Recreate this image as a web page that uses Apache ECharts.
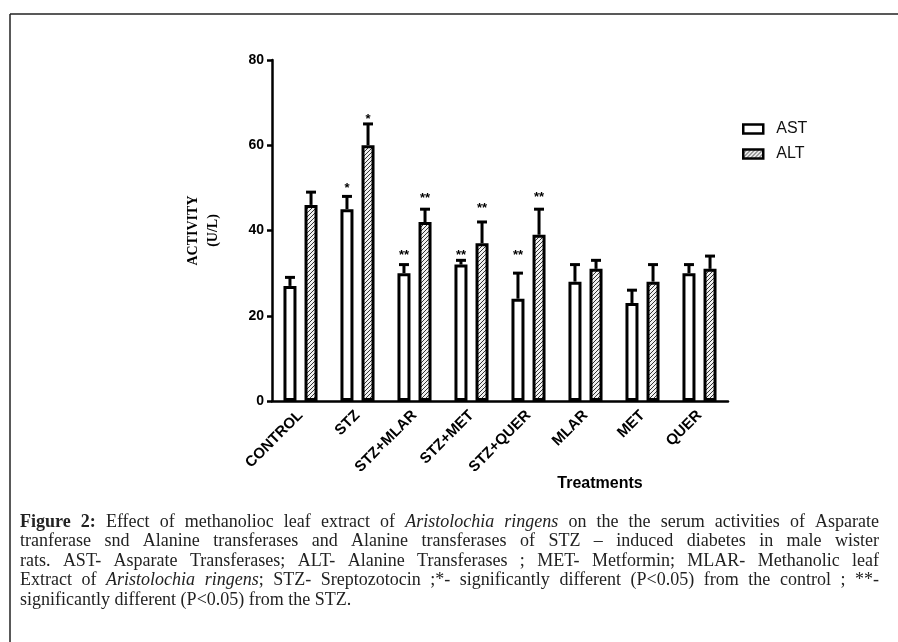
<!DOCTYPE html>
<html><head><meta charset="utf-8">
<script src="https://cdn.jsdelivr.net/npm/echarts@6/dist/echarts.min.js"></script>
<style>html,body{margin:0;padding:0;background:#fff}#c{width:898px;height:642px}</style>
</head><body><div id="c"></div>
<script>
// ---- data ----
const categories = ['CONTROL','STZ','STZ+MLAR','STZ+MET','STZ+QUER','MLAR','MET','QUER'];
const astValues = [27,45,30,32,24,28,23,30];
const astUpper  = [29,48,32,33,30,32,26,32];
const altValues = [46,60,42,37,39,31,28,31];
const altUpper  = [49,65,45,42,45,33,32,34];
const astMarks = ['','*','**','**','**','','',''];
const altMarks = ['','*','**','**','**','','',''];
const astMarkLevel = [0,50.5,34.8,34.8,34.8,0,0,0];
const altMarkLevel = [0,66.7,48.2,46,48.4,0,0,0];
const yTicks = [0,20,40,60,80];

const captionLines = [
  [{b:'Figure'},{b:'2:'},'Effect','of','methanolioc','leaf','extract','of',{i:'Aristolochia'},{i:'ringens'},'on','the','the','serum','activities','of','Asparate'],
  'tranferase snd Alanine transferases and Alanine transferases of STZ – induced diabetes in male wister'.split(' '),
  'rats. AST- Asparate Transferases; ALT- Alanine Transferases ; MET- Metformin; MLAR- Methanolic leaf'.split(' '),
  ['Extract','of',{i:'Aristolochia'},[{i:'ringens'},';'],'STZ-','Sreptozotocin',';*-','significantly','different','(P<0.05)','from','the','control',';','**-'],
  'significantly different (P<0.05) from the STZ.'.split(' ')
];

// ---- styles ----
function hatch(){
  const c = document.createElement('canvas'); c.width = 4; c.height = 4;
  const g = c.getContext('2d');
  g.fillStyle = '#f0f0f0'; g.fillRect(0,0,4,4);
  g.strokeStyle = '#333'; g.lineWidth = 1;
  g.beginPath();
  g.moveTo(0,4); g.lineTo(4,0);
  g.moveTo(-1,1); g.lineTo(1,-1);
  g.moveTo(3,5); g.lineTo(5,3);
  g.stroke();
  return c;
}
const hatchPattern = {image: hatch(), repeat: 'repeat'};

const BAR_W = 13, BAR_GAP = '62%';

function errSeries(name, vals, ups, marks, levels, k){
  return {
    type: 'custom', name: name + ' err', z: 5,
    data: vals.map((v,i)=>[i, v, ups[i], levels[i]]),
    renderItem: function(params, api){
      const i = api.value(0), v = api.value(1), up = api.value(2), lv = api.value(3);
      let off = (k === 0 ? -10.5 : 10.5);
      if (api.barLayout) {
        const lay = api.barLayout({barWidth: BAR_W, barGap: BAR_GAP, count: 2});
        if (lay && lay[k]) off = lay[k].offsetCenter;
      }
      const p0 = api.coord([i, v]), p1 = api.coord([i, up]);
      const x = p0[0] + off;
      const ls = {stroke: '#000', lineWidth: 3};
      const children = [
        {type:'line', shape:{x1:x, y1:p0[1], x2:x, y2:p1[1]}, style: ls},
        {type:'line', shape:{x1:x-5, y1:p1[1], x2:x+5, y2:p1[1]}, style: ls}
      ];
      const m = marks[params.dataIndex];
      if (m) {
        const pm = api.coord([i, lv]);
        children.push({type:'text', style:{text: m, x: x, y: pm[1] - 3.5, align:'center', verticalAlign:'top',
          fontSize: 13, fontWeight: 'bold', fontFamily: 'Arial, "Liberation Sans"', fill:'#000'}});
      }
      return {type:'group', children};
    }
  };
}

// ---- caption layout (justified) ----
function captionGraphics(){
  const ctx = document.createElement('canvas').getContext('2d');
  const fs = 18, fam = '"Liberation Serif", "Times New Roman", serif';
  const left = 20, right = 879, y0 = 522, lh = 19.5;
  const out = [];
  const fontOf = st => (st === 'i' ? 'italic ' : '') + (st === 'b' ? 'bold ' : '') + fs + 'px ' + fam;
  const piece = p => typeof p === 'string' ? {t:p, st:''} : (p.b ? {t:p.b, st:'b'} : {t:p.i, st:'i'});
  captionLines.forEach((line, li) => {
    const words = line.map(tok => {
      const pieces = (Array.isArray(tok) ? tok : [tok]).map(piece);
      let w = 0;
      pieces.forEach(p => { ctx.font = fontOf(p.st); p.w = ctx.measureText(p.t).width; w += p.w; });
      return {pieces, w};
    });
    const total = words.reduce((s, w) => s + w.w, 0);
    ctx.font = fontOf('');
    const last = li === captionLines.length - 1;
    const gap = last ? ctx.measureText(' ').width : (right - left - total) / (words.length - 1);
    let x = left;
    const y = y0 + li * lh;
    words.forEach(w => {
      let px = x;
      w.pieces.forEach(p => {
        out.push({type:'text', x: px, y: y, silent: true,
          style:{text: p.t, x: 0, y: 0, fill:'#222', fontSize: fs, fontFamily: fam,
            fontStyle: p.st === 'i' ? 'italic' : 'normal', fontWeight: p.st === 'b' ? 'bold' : 'normal',
            verticalAlign: 'middle', align: 'left'}});
        px += p.w;
      });
      x += w.w + gap;
    });
  });
  return out;
}

const chart = echarts.init(document.getElementById('c'), null, {renderer: 'canvas'});
chart.setOption({
  backgroundColor: '#fff',
  animation: false,
  grid: {left: 272, right: 170, top: 60, bottom: 241, containLabel: false},
  legend: {
    data: ['AST', 'ALT'], orient: 'vertical', left: 737, top: 116,
    itemWidth: 20, itemHeight: 9, itemGap: 9, icon: 'rect',
    itemStyle: {borderWidth: 2.5, borderColor: '#000'},
    textStyle: {fontSize: 16, fontFamily: 'Arial, "Liberation Sans"', color: '#111', padding: [0,0,0,8]}
  },
  xAxis: {
    type: 'category', data: categories,
    axisLine: {lineStyle: {color: '#000', width: 2.5}},
    axisTick: {alignWithLabel: true, length: 5, lineStyle: {color: '#000', width: 2.5}},
    axisLabel: {rotate: 45, margin: 12, color: '#000', fontSize: 15, fontWeight: 'bold', fontFamily: 'Arial, "Liberation Sans"', interval: 0},
    splitLine: {show: false}
  },
  yAxis: {
    type: 'value', min: yTicks[0], max: yTicks[yTicks.length - 1], interval: yTicks[1] - yTicks[0],
    name: 'ACTIVITY\n(U/L)', nameLocation: 'middle', nameRotate: 90, nameGap: 49,
    nameTextStyle: {fontSize: 14, fontWeight: 'bold', fontFamily: '"Liberation Serif", "Times New Roman", serif', color: '#000', lineHeight: 20},
    axisLine: {show: true, lineStyle: {color: '#000', width: 2.5}},
    axisTick: {show: true, length: 5, lineStyle: {color: '#000', width: 2.5}},
    axisLabel: {margin: 8, color: '#000', fontSize: 14, fontWeight: 'bold', fontFamily: 'Arial, "Liberation Sans"'},
    splitLine: {show: false}
  },
  series: [
    {name: 'AST', type: 'bar', data: astValues, barWidth: BAR_W, barGap: BAR_GAP,
      itemStyle: {color: '#fff', borderColor: '#000', borderWidth: 3}},
    {name: 'ALT', type: 'bar', data: altValues, barWidth: BAR_W, barGap: BAR_GAP,
      itemStyle: {color: hatchPattern, borderColor: '#000', borderWidth: 3}},
    errSeries('AST', astValues, astUpper, astMarks, astMarkLevel, 0),
    errSeries('ALT', altValues, altUpper, altMarks, altMarkLevel, 1)
  ],
  graphic: [
    {type: 'line', silent: true, shape: {x1: 10, y1: 14, x2: 898, y2: 14}, style: {stroke: '#222', lineWidth: 1.5}},
    {type: 'line', silent: true, shape: {x1: 10, y1: 14, x2: 10, y2: 642}, style: {stroke: '#222', lineWidth: 1.5}},
    {type: 'text', silent: true, x: 600, y: 484,
      style: {text: 'Treatments', fontSize: 16, fontWeight: 'bold', fontFamily: 'Arial, "Liberation Sans"', fill: '#000', align: 'center', verticalAlign: 'middle'}}
  ].concat(captionGraphics())
});
</script>
</body></html>
